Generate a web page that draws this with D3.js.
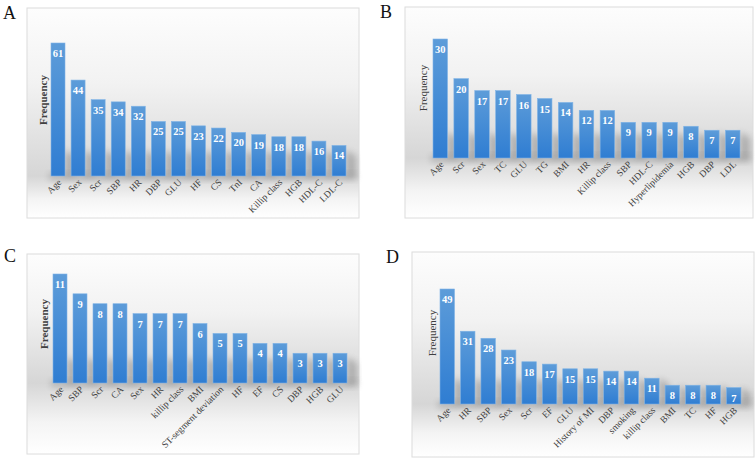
<!DOCTYPE html>
<html>
<head>
<meta charset="utf-8">
<script src="https://cdn.jsdelivr.net/npm/d3@7.9.0/dist/d3.min.js"></script>
<style>
  body { margin: 0; background: #fff; }
  svg { display: block; font-family: "Liberation Serif", "Times New Roman", serif; }
</style>
</head>
<body>
<svg id="chart" width="755" height="459"></svg>
<script>
// panel A
const catsA = ['Age', 'Sex', 'Scr', 'SBP', 'HR', 'DBP', 'GLU', 'HF', 'CS', 'TnI', 'CA', 'Killip class', 'HGB', 'HDL-C', 'LDL-C'];
const valsA = [61, 44, 35, 34, 32, 25, 25, 23, 22, 20, 19, 18, 18, 16, 14];
// panel B
const catsB = ['Age', 'Scr', 'Sex', 'TC', 'GLU', 'TG', 'BMI', 'HR', 'Killip class', 'SBP', 'HDL-C', 'Hyperlipidemia', 'HGB', 'DBP', 'LDL'];
const valsB = [30, 20, 17, 17, 16, 15, 14, 12, 12, 9, 9, 9, 8, 7, 7];
// panel C
const catsC = ['Age', 'SBP', 'Scr', 'CA', 'Sex', 'HR', 'killip class', 'BMI', 'ST-segment deviation', 'HF', 'EF', 'CS', 'DBP', 'HGB', 'GLU'];
const valsC = [11, 9, 8, 8, 7, 7, 7, 6, 5, 5, 4, 4, 3, 3, 3];
// panel D
const catsD = ['Age', 'HR', 'SBP', 'Sex', 'Scr', 'EF', 'GLU', 'History of MI', 'DBP', 'smoking', 'killip class', 'BMI', 'TC', 'HF', 'HGB'];
const valsD = [49, 31, 28, 23, 18, 17, 15, 15, 14, 14, 11, 8, 8, 8, 7];

const panels = [
  { letter: 'A', cats: catsA, vals: valsA, frame: [27, 8, 332, 210], lx: 3, ly: 19,
    x0: 51, x1: 346, bw: 14, base: 176, top: 43, fx: 43, fy: 100, fw: 'bold' },
  { letter: 'B', cats: catsB, vals: valsB, frame: [405, 7, 348, 211], lx: 380, ly: 18,
    x0: 433, x1: 740, bw: 14.5, base: 158, top: 39, fx: 423, fy: 88, fw: 'normal' },
  { letter: 'C', cats: catsC, vals: valsC, frame: [27, 254, 332, 200], lx: 4, ly: 262,
    x0: 53, x1: 347, bw: 14, base: 383, top: 274, fx: 44, fy: 324, fw: 'bold' },
  { letter: 'D', cats: catsD, vals: valsD, frame: [412, 252, 342, 205], lx: 386, ly: 263,
    x0: 440, x1: 741, bw: 14.5, base: 404, top: 289, fx: 432, fy: 333, fw: 'normal' }
];

const svg = d3.select('#chart');
const defs = svg.append('defs');

const barGrad = defs.append('linearGradient').attr('id', 'barGrad')
  .attr('x1', 0).attr('y1', 0).attr('x2', 0).attr('y2', 1);
barGrad.append('stop').attr('offset', '0%').attr('stop-color', '#5d9cd9');
barGrad.append('stop').attr('offset', '100%').attr('stop-color', '#2f7dd2');

defs.append('filter').attr('id', 'blur')
  .attr('x', '-50%').attr('y', '-50%').attr('width', '200%').attr('height', '200%')
  .append('feGaussianBlur').attr('stdDeviation', 3);

panels.forEach((p, pi) => {
  const [fx, fy, fw, fh] = p.frame;
  const g = svg.append('g');

  // background gradient: white top, gray at baseline, white bottom
  const baseFrac = (p.base - fy) / fh;
  const bg = defs.append('linearGradient').attr('id', 'bg' + pi)
    .attr('x1', 0).attr('y1', 0).attr('x2', 0).attr('y2', 1);
  bg.append('stop').attr('offset', 0).attr('stop-color', '#fdfdfd');
  bg.append('stop').attr('offset', baseFrac * 0.45).attr('stop-color', '#f2f2f2');
  bg.append('stop').attr('offset', baseFrac).attr('stop-color', '#d6d6d6');
  bg.append('stop').attr('offset', baseFrac + (1 - baseFrac) * 0.55).attr('stop-color', '#f4f4f4');
  bg.append('stop').attr('offset', 1).attr('stop-color', '#ffffff');

  g.append('rect')
    .attr('x', fx).attr('y', fy).attr('width', fw).attr('height', fh)
    .attr('fill', `url(#bg${pi})`)
    .attr('stroke', '#dcdcdc').attr('stroke-width', 1);

  const s = (p.x1 - p.x0 - p.bw) / (p.cats.length - 1);
  const pad = 1 - p.bw / s;
  const x = d3.scaleBand()
    .domain(p.cats)
    .range([p.x0 - (s - p.bw) / 2, p.x1 + (s - p.bw) / 2])
    .paddingInner(pad)
    .paddingOuter(pad / 2);
  const y = d3.scaleLinear()
    .domain([0, d3.max(p.vals)])
    .range([p.base, p.top]);

  // soft shadows near the baseline
  g.append('rect')
    .attr('x', x(p.cats[0]) - 2).attr('y', p.base - 3)
    .attr('width', x(p.cats[p.cats.length - 1]) + p.bw - x(p.cats[0]) + 12)
    .attr('height', 7)
    .attr('fill', '#8a8a8a').attr('opacity', 0.45)
    .attr('filter', 'url(#blur)');

  g.selectAll('.shadow')
    .data(p.vals)
    .join('path')
    .attr('class', 'shadow')
    .attr('d', (d, i) => {
      const xl = x(p.cats[i]) + p.bw;
      const h = Math.min(y(0) - y(d), 26);
      return `M${xl},${p.base} L${xl},${p.base - h} L${xl + 10},${p.base - h + 6} L${xl + 10},${p.base} Z`;
    })
    .attr('fill', '#7a7a7a').attr('opacity', 0.45)
    .attr('filter', 'url(#blur)');

  g.selectAll('.bar')
    .data(p.vals)
    .join('rect')
    .attr('class', 'bar')
    .attr('x', (d, i) => x(p.cats[i]))
    .attr('y', d => y(d))
    .attr('width', x.bandwidth())
    .attr('height', d => y(0) - y(d))
    .attr('fill', 'url(#barGrad)')
    .attr('stroke', '#7fb3e6').attr('stroke-width', 0.6);

  g.selectAll('.val')
    .data(p.vals)
    .join('text')
    .attr('class', 'val')
    .attr('x', (d, i) => x(p.cats[i]) + x.bandwidth() / 2)
    .attr('y', d => y(d) + 14)
    .attr('text-anchor', 'middle')
    .attr('fill', '#fff')
    .attr('font-weight', 'bold')
    .attr('font-size', 10.5)
    .text(d => d);

  g.selectAll('.cat')
    .data(p.cats)
    .join('text')
    .attr('class', 'cat')
    .attr('transform', d => `translate(${x(d) + x.bandwidth() / 2 + 4},${p.base + 7}) rotate(-45)`)
    .attr('text-anchor', 'end')
    .attr('fill', '#404040')
    .attr('font-size', 9.5)
    .text(d => d);

  g.append('text')
    .attr('transform', `translate(${p.fx + 4},${p.fy}) rotate(-90)`)
    .attr('text-anchor', 'middle')
    .attr('fill', '#404040')
    .attr('font-weight', p.fw)
    .attr('font-size', 11)
    .text('Frequency');

  svg.append('text')
    .attr('x', p.lx).attr('y', p.ly)
    .attr('font-size', 18)
    .attr('fill', '#111')
    .text(p.letter);
});
</script>
</body>
</html>
